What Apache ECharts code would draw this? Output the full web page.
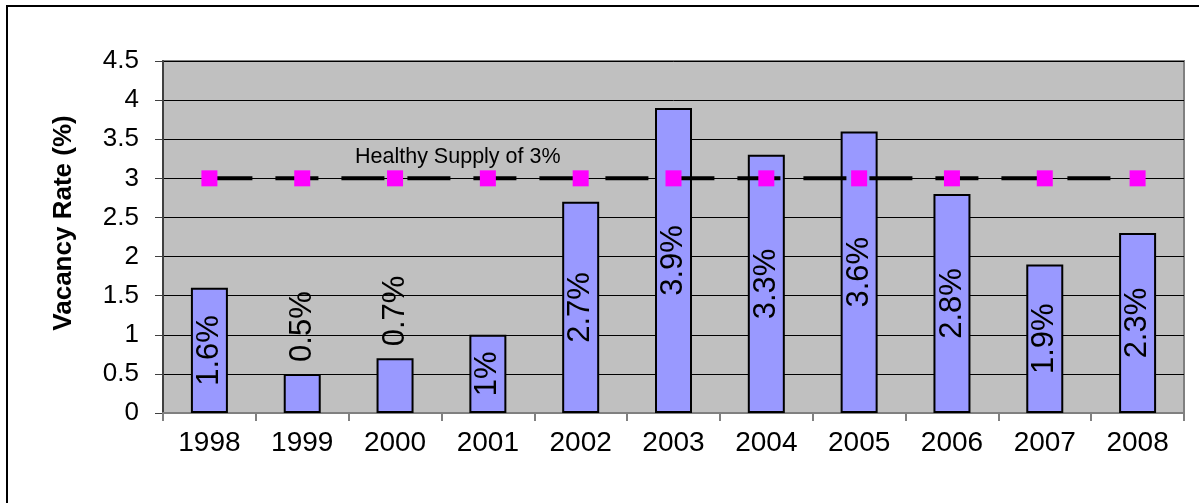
<!DOCTYPE html>
<html>
<head>
<meta charset="utf-8">
<script src="https://cdn.jsdelivr.net/npm/echarts@6/dist/echarts.min.js"></script>
<style>
html,body{margin:0;padding:0;background:#fff;}
#chart{width:1199px;height:503px;}
</style>
</head>
<body>
<div id="chart"></div>
<script>
const years = ['1998','1999','2000','2001','2002','2003','2004','2005','2006','2007','2008'];
const vacancyRate = [1.6, 0.5, 0.7, 1.0, 2.7, 3.9, 3.3, 3.6, 2.8, 1.9, 2.3];
const vacancyLabels = ['1.6%','0.5%','0.7%','1%','2.7%','3.9%','3.3%','3.6%','2.8%','1.9%','2.3%'];
const healthySupply = [3, 3, 3, 3, 3, 3, 3, 3, 3, 3, 3];
const yTicks = ['0','0.5','1','1.5','2','2.5','3','3.5','4','4.5'];
const yTitle = 'Vacancy Rate (%)';
const healthyText = 'Healthy Supply of 3%';

const chart = echarts.init(document.getElementById('chart'));
const FONT = 'Liberation Sans, Arial, sans-serif';

const barData = vacancyRate.map((v, i) => ({
  value: v,
  label: v < 0.8
    ? { position: 'top', rotate: 90, align: 'left', verticalAlign: 'middle', distance: 12 }
    : { position: 'inside', rotate: 90, align: 'center', verticalAlign: 'middle' }
}));

chart.setOption({
  animation: false,
  backgroundColor: '#ffffff',
  grid: {
    left: 163, right: 15, top: 61, bottom: 90,
    show: true, backgroundColor: '#C0C0C0', borderColor: '#808080', borderWidth: 2
  },
  xAxis: {
    type: 'category',
    data: years,
    boundaryGap: true,
    axisLine: { show: true, lineStyle: { color: '#808080', width: 2 } },
    axisTick: { show: true, alignWithLabel: false, length: 8, lineStyle: { color: '#808080', width: 2 } },
    axisLabel: { color: '#000', fontFamily: FONT, fontSize: 28, margin: 16 }
  },
  yAxis: {
    type: 'value',
    min: 0, max: 4.5, interval: 0.5,
    axisLine: { show: true, lineStyle: { color: '#404040', width: 2 } },
    axisTick: { show: true, inside: false, length: 8, lineStyle: { color: '#404040', width: 1 } },
    axisLabel: {
      color: '#000', fontFamily: FONT, fontSize: 26, margin: 24,
      formatter: (v) => yTicks[Math.round(v / 0.5)]
    },
    splitLine: { show: true, lineStyle: { color: '#000', width: 1 } }
  },
  series: [
    {
      type: 'bar',
      data: barData,
      barWidth: 37,
      itemStyle: { color: '#9999FF', borderColor: '#000', borderWidth: 2 },
      label: {
        show: true,
        color: '#000',
        fontFamily: FONT,
        fontSize: 31,
        formatter: (p) => vacancyLabels[p.dataIndex]
      },
      z: 2
    },
    {
      type: 'line',
      data: healthySupply,
      symbol: 'rect',
      symbolSize: 16,
      itemStyle: { color: '#FF00FF' },
      lineStyle: { color: '#000', width: 4, type: [43, 23] },
      z: 3
    }
  ],
  graphic: [
    {
      type: 'rect',
      shape: { x: 7, y: 6, width: 1240, height: 540 },
      style: { fill: 'none', stroke: '#000', lineWidth: 2 },
      silent: true
    },
    {
      type: 'text',
      x: 64, y: 223,
      rotation: Math.PI / 2,
      style: {
        text: yTitle, fill: '#000',
        font: 'bold 26px Liberation Sans, Arial, sans-serif',
        align: 'center', verticalAlign: 'middle'
      },
      z: 10
    },
    {
      type: 'text',
      left: 355, top: 146,
      style: { text: healthyText, fill: '#000', font: '21.5px Liberation Sans, Arial, sans-serif' },
      z: 10
    }
  ]
});
</script>
</body>
</html>
